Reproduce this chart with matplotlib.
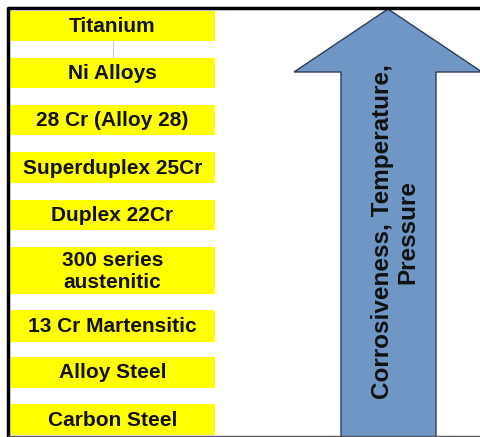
import matplotlib.pyplot as plt
from matplotlib.patches import Rectangle, Polygon

# ---------------------------------------------------------------------
# Materials, ordered from top of the column to the bottom
materials = [
    "Titanium",
    "Ni Alloys",
    "28 Cr (Alloy 28)",
    "Superduplex 25Cr",
    "Duplex 22Cr",
    "300 series\naustenitic",
    "13 Cr Martensitic",
    "Alloy Steel",
    "Carbon Steel",
]
box_top    = [11, 58, 105, 152, 200, 247, 310, 357, 404]
box_bottom = [41, 88, 135, 183, 230, 294, 342, 388, 435]

arrow_label = "Corrosiveness, Temperature,\nPressure"

W, H = 481, 437
BOX_X0, BOX_X1 = 10, 215
YELLOW = "#ffff00"
BLUE = "#7096c6"

fig = plt.figure(figsize=(W / 100, H / 100), dpi=100)
ax = fig.add_axes([0, 0, 1, 1])
ax.set_xlim(0, W)
ax.set_ylim(H, 0)
ax.axis("off")

font = ["Liberation Sans", "DejaVu Sans"]

# ---------------------------------------------------------------------
# yellow boxes
for name, t, b in zip(materials, box_top, box_bottom):
    ax.add_patch(Rectangle((BOX_X0, t), BOX_X1 - BOX_X0, b - t,
                           facecolor=YELLOW, edgecolor="none", zorder=2))
    ax.text((BOX_X0 + BOX_X1) / 2, (t + b) / 2 + 0.5, name,
            ha="center", va="center", fontsize=15, fontweight="bold",
            family=font, color="#111111", linespacing=1.2, zorder=3)

# thin connector between the first two boxes
ax.plot([113, 113], [box_bottom[0], box_top[1]], color="#c8c8c8", lw=0.8, zorder=1)

# ---------------------------------------------------------------------
# big arrow
shaft_x0, shaft_x1 = 341, 436
head_x0, head_x1 = 294, 482
head_base, tip_y, tip_x = 72, 9, 388
arrow_pts = [(shaft_x0, H), (shaft_x0, head_base), (head_x0, head_base),
             (tip_x, tip_y), (head_x1, head_base), (shaft_x1, head_base),
             (shaft_x1, H)]
ax.add_patch(Polygon(arrow_pts, closed=True, facecolor=BLUE,
                     edgecolor="#2e3c55", lw=1.0, zorder=2))
ax.text(395, 232, arrow_label, rotation=90, ha="center", va="center",
        fontsize=17.5, fontweight="bold", family=font, color="#111111",
        linespacing=1.12, zorder=3)

# ---------------------------------------------------------------------
# frame
ax.plot([7, W], [8, 8], color="black", lw=2.5, zorder=4, solid_capstyle="butt")
ax.plot([8, 8], [7, H], color="black", lw=2.5, zorder=4, solid_capstyle="butt")
ax.plot([8, W], [436, 436], color="#555555", lw=1.0, zorder=4)

fig.savefig("out.png", dpi=100)
